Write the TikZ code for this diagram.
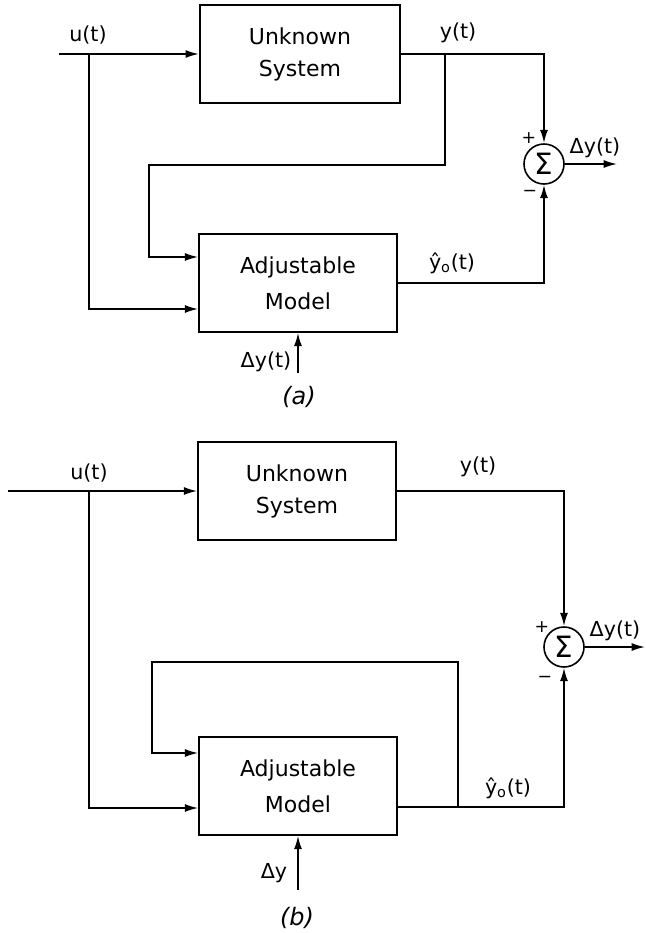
\documentclass[tikz,border=0pt]{standalone}
\usepackage{fontspec}
\setmainfont{DejaVu Sans}
\usetikzlibrary{arrows.meta,calc}
\begin{document}
\begin{tikzpicture}[
    x=0.75pt, y=-0.75pt,
    blockbox/.style={draw, line width=1.7pt, minimum width=148pt, minimum height=73pt,
                  align=center, font=\fontsize{16.5}{24}\selectfont},
    sumnode/.style={draw, circle, line width=1.2pt, minimum size=30pt, inner sep=0pt,
                  font=\fontsize{22}{22}\selectfont},
    lbl/.style={font=\fontsize{15.5}{15.5}\selectfont, inner sep=0pt},
    sgn/.style={font=\fontsize{13}{13}\selectfont, inner sep=0pt},
    arr/.style={->, >={Latex[length=10pt,width=6pt]}, line width=1.2pt},
  ]
  \useasboundingbox (0,0) rectangle (646,933);
  % (a): model fed with u(t) and y(t)
  \node[blockbox, minimum width=150pt] (sysa) at (300,54) {Unknown\\System};
  \node[blockbox] (moda) at (298,283) {Adjustable\\[3pt]Model};
  \node[sumnode] (suma) at (544,164) {Σ};
  \coordinate (ina)  at (59,54);
  \coordinate (ua)   at (89,54);
  \coordinate (ya)   at (445,54);
  \coordinate (fba)  at (149,165);
  \coordinate (outa) at (617,164);
  \coordinate (dya)  at (298,373);
  \draw[arr] (ina) -- (sysa);
  \draw[arr] (ua) |- ($(moda.west)+(0,26)$);
  \draw[arr] (sysa.east) -| (suma.north);
  \draw[arr] (ya) |- (fba) |- ($(moda.west)+(0,-26)$);
  \draw[arr] (moda.east) -| (suma.south);
  \draw[arr] (suma) -- (outa);
  \draw[arr] (dya) -- (moda.south);
  \node[lbl] (ulbla)  at (88,35)   {u(t)};
  \node[lbl] (ylbla)  at (458,33)  {y(t)};
  \node[lbl] (dylbla) at (595,148) {Δy(t)};
  \node[lbl] (yhlbla) at (452,263) {ŷ\textsubscript{o}(t)};
  \node[lbl] (dyina)  at (266,362) {Δy(t)};
  \node[sgn] (pla)    at (529,138) {+};
  \node[sgn] (mia)    at (530,193) {−};
  \node[lbl, font=\fontsize{18}{18}\selectfont\itshape] (capa) at (299,397) {(a)};
  % (b): model fed with u(t) and its own output
  \node[blockbox] (sysb) at (297,491) {Unknown\\System};
  \node[blockbox] (modb) at (298,786) {Adjustable\\[3pt]Model};
  \node[sumnode] (sumb) at (564,647) {Σ};
  \coordinate (inb)  at (8,491);
  \coordinate (ub)   at (89,491);
  \coordinate (yhb)  at (458,807);
  \coordinate (fbb)  at (152,662);
  \coordinate (outb) at (645,647);
  \coordinate (dyb)  at (298,890);
  \draw[arr] (inb) -- (sysb);
  \draw[arr] (ub) |- ($(modb.west)+(0,22)$);
  \draw[arr] (sysb.east) -| (sumb.north);
  \draw[arr] ($(modb.east)+(0,21)$) -| (sumb.south);
  \draw[arr] (yhb) |- (fbb) |- ($(modb.west)+(0,-33)$);
  \draw[arr] (sumb) -- (outb);
  \draw[arr] (dyb) -- (modb.south);
  \node[lbl] (ulblb)  at (89,473)  {u(t)};
  \node[lbl] (ylblb)  at (478,467) {y(t)};
  \node[lbl] (dylblb) at (615,631) {Δy(t)};
  \node[lbl] (yhlblb) at (508,788) {ŷ\textsubscript{o}(t)};
  \node[lbl] (dyinb)  at (274,873) {Δy};
  \node[sgn] (plb)    at (542,627) {+};
  \node[sgn] (mib)    at (545,679) {−};
  \node[lbl, font=\fontsize{18}{18}\selectfont\itshape] (capb) at (297,918) {(b)};
\end{tikzpicture}
\end{document}
